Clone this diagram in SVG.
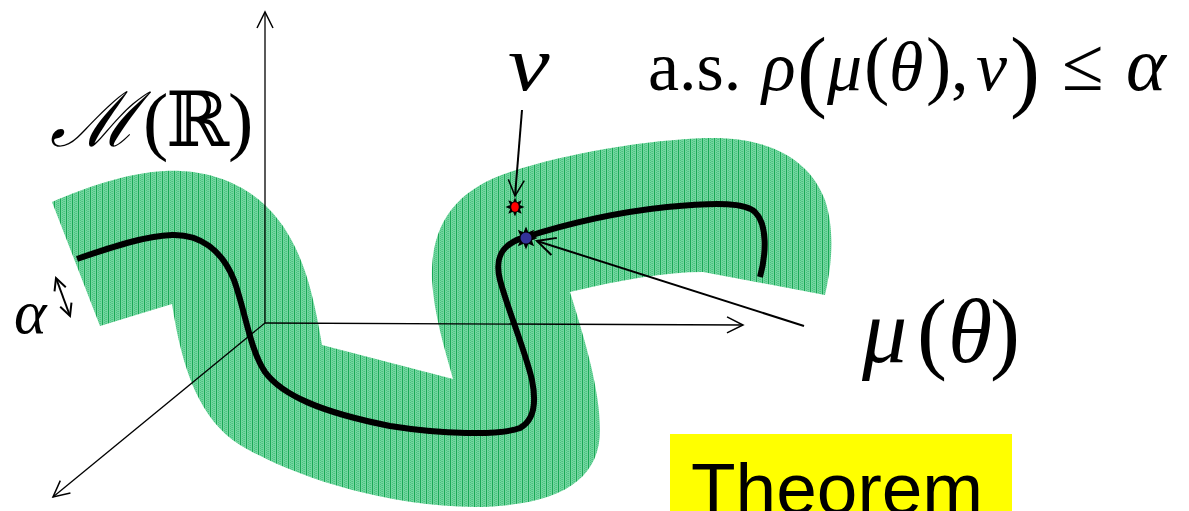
<svg xmlns="http://www.w3.org/2000/svg" width="1189" height="511" viewBox="0 0 1189 511">
<style>
.ax{fill:none;stroke:#000;stroke-width:1.3}
.ptr{fill:none;stroke:#000;stroke-width:2}
.curve{fill:none;stroke:#000;stroke-width:6;stroke-linecap:butt;stroke-linejoin:round}
.m{font-family:"Liberation Serif","DejaVu Serif",serif;fill:#000}
.it{font-style:italic}
.sans{font-family:"Liberation Sans",Arial,sans-serif;fill:#000}
</style>
<defs>
<pattern id="hatch" width="6" height="2" patternUnits="userSpaceOnUse">
<rect width="6" height="2" fill="#74d6a0"/>
<rect x="2" y="0" width="1" height="1" fill="#48c280"/>
<rect x="4" y="1" width="1" height="1" fill="#48c280"/>
<rect x="3" y="1" width="1" height="1" fill="#58ca8c"/>
<rect x="0" y="0" width="1" height="2" fill="#1aa856"/>
</pattern>
<marker id="arr" viewBox="-20 -10 22 20" refX="0" refY="0" markerWidth="22" markerHeight="20" markerUnits="userSpaceOnUse" orient="auto">
<path d="M-16,-8 L0,0 L-16,8" fill="none" stroke="#000" stroke-width="1.5"/>
</marker>
<marker id="arr2" viewBox="-24 -12 26 24" refX="0" refY="0" markerWidth="26" markerHeight="24" markerUnits="userSpaceOnUse" orient="auto">
<path d="M-18,-9 L0,0 L-18,9" fill="none" stroke="#000" stroke-width="2"/>
</marker>
<marker id="arrS" viewBox="-14 -8 16 16" refX="0" refY="0" markerWidth="16" markerHeight="16" markerUnits="userSpaceOnUse" orient="auto-start-reverse">
<path d="M-12,-6 L0,0 L-12,6" fill="none" stroke="#000" stroke-width="2"/>
</marker>
<polygon id="star" points="10,0 5.08,2.1 7.07,7.07 2.1,5.08 0,10 -2.1,5.08 -7.07,7.07 -5.08,2.1 -10,0 -5.08,-2.1 -7.07,-7.07 -2.1,-5.08 0,-10 2.1,-5.08 7.07,-7.07 5.08,-2.1" fill="#000"/>
</defs>
<rect width="1189" height="511" fill="#fff"/>

<g id="band">
<path d="M52,202 C85,188 125,173 165,171 C210,169 255,185 283,226 C303,256 313,290 322,345 L453,379 C445,350 434,315 432,280 C430,225 455,190 510,172 C570,152 650,140 705,138 C770,136 810,160 825,200 C835,230 832,265 825,295 L703,272 C665,272 620,280 570,292 C585,340 600,390 600,430 C600,480 560,506 475,507 C380,506 290,475 240,445 C200,420 182,370 172,304 L100,326 Z" fill="url(#hatch)"/>
</g>

<g id="axes">
<line class="ax" x1="265" y1="323" x2="265" y2="12" marker-end="url(#arr)"/>
<line class="ax" x1="265" y1="323" x2="743" y2="325" marker-end="url(#arr)"/>
<line class="ax" x1="265" y1="323" x2="53" y2="497" marker-end="url(#arr)"/>
</g>

<g id="curve">
<path class="curve" d="M77,259 C115,246 145,236 172,235 C200,234 222,250 234,280 C245,310 250,350 265,372 C282,395 320,412 390,426 C440,434 500,436 520,428 C535,420 536,400 532,380 C525,350 508,310 500,280 C494,256 503,243 526,237 C560,226 610,213 667,207 C720,202 745,203 755,212 C768,225 766,255 760,277"/>
</g>

<g id="connectors">
<line class="ptr" x1="522" y1="110" x2="515" y2="196" marker-end="url(#arr)"/>
<line class="ptr" x1="804" y1="326" x2="537" y2="241" marker-end="url(#arr2)"/>
<line class="ptr" x1="56" y1="278" x2="70" y2="316" marker-start="url(#arrS)" marker-end="url(#arrS)"/>
</g>

<g id="nu-point">
<use href="#star" transform="translate(515,207) scale(0.95)"/>
<ellipse cx="515" cy="207" rx="3.8" ry="4.8" fill="#ff0000"/>
</g>
<g id="mu-point">
<use href="#star" transform="translate(526,238) scale(1.15)"/>
<circle cx="526" cy="238" r="5.5" fill="#333399"/>
</g>

<g id="labels">
<text class="m" x="14" y="333" font-size="62"><tspan class="it">α</tspan></text>
<text class="m" y="146" font-size="76"><tspan x="50" font-family="DejaVu Serif,serif" font-style="italic">ℳ</tspan><tspan x="143">(</tspan><tspan x="166" font-family="DejaVu Serif,serif">ℝ</tspan><tspan x="228">)</tspan></text>
<text class="m" y="362" font-size="90"><tspan x="862" class="it">μ</tspan><tspan x="917">(</tspan><tspan x="948" class="it">θ</tspan><tspan x="990">)</tspan></text>
<text class="m it" transform="translate(508,90) scale(1.2,1)" font-size="78">ν</text>
<text class="m" y="90" font-size="70"><tspan x="648">a.s.</tspan><tspan x="762" class="it">ρ</tspan><tspan x="797" y="100" font-size="90">(</tspan><tspan x="827" y="90" class="it">μ</tspan><tspan x="864" font-size="76">(</tspan><tspan x="889" class="it">θ</tspan><tspan x="926" font-size="76">)</tspan><tspan x="951">,</tspan><tspan x="976" class="it">ν</tspan><tspan x="1010" y="100" font-size="90">)</tspan><tspan x="1062" font-size="76" y="90">≤</tspan><tspan x="1126" class="it" font-size="76">α</tspan></text>
</g>

<g id="theorem">
<rect x="670" y="434" width="342" height="80" fill="#ffff00"/>
<text class="sans" x="691" y="514" font-size="73">Theorem</text>
</g>
</svg>
